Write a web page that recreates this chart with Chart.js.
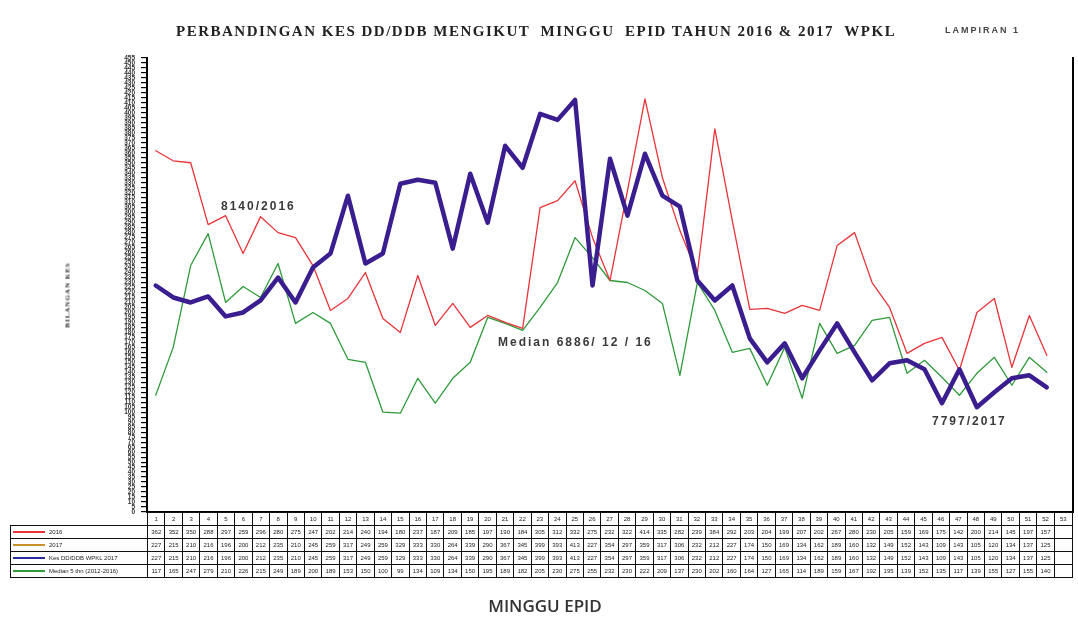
<!DOCTYPE html>
<html>
<head>
<meta charset="utf-8">
<script src="https://cdn.jsdelivr.net/npm/chart.js@4.4.0/dist/chart.umd.min.js"></script>
<style>
  body { margin: 0; background: #fff; }
  #wrap { position: relative; width: 1078px; height: 619px; overflow: hidden; }
  #myChart { position: absolute; left: 0; top: 0; }
  .txt { position: absolute; white-space: pre; }
  #title { left: 176px; top: 23px; font: bold 15px "Liberation Serif", serif; color: #222; letter-spacing: 1.5px; }
  #lampiran { left: 945px; top: 25px; font: bold 9px "Liberation Sans", sans-serif; color: #444; letter-spacing: 2px; }
  #ytitle { left: 30px; top: 291px; width: 75px; text-align: center; font: bold 7px "Liberation Serif", serif; color: #222; transform: rotate(-90deg); letter-spacing: 1px; }
  #xtitle { left: 0; width: 1090px; top: 594px; text-align: center; font: 600 17px "Open Sans", sans-serif; color: #333; }
  .note { font: bold 12px "Liberation Sans", sans-serif; color: #3a3a3a; letter-spacing: 2px; }
  #dataTable { position: absolute; left: 10px; top: 512px; width: 1063px; table-layout: fixed; border-collapse: collapse; }
  #dataTable td { border: 1px solid #111; height: 12px; padding: 0; font: 6px "Liberation Sans", sans-serif; color: #222; text-align: center; overflow: hidden; }
  #dataTable td.leg { text-align: left; font-size: 6px; white-space: nowrap; border-width: 1.5px; }
  #dataTable td.blank { border: none; }
  .legline { display: inline-block; width: 32px; height: 2px; vertical-align: middle; margin: 0 4px 0 2px; }
</style>
</head>
<body>
<div id="wrap">
  <canvas id="myChart" width="1078" height="619"></canvas>
  <div id="title" class="txt">PERBANDINGAN KES DD/DDB MENGIKUT  MINGGU  EPID TAHUN 2016 &amp; 2017  WPKL</div>
  <div id="lampiran" class="txt">LAMPIRAN 1</div>
  <div id="ytitle" class="txt">BILANGAN KES</div>
  <div id="xtitle" class="txt">MINGGU EPID</div>
  <div class="txt note" style="left:221px; top:199px;">8140/2016</div>
  <div class="txt note" style="left:498px; top:335px;">Median 6886/ 12 / 16</div>
  <div class="txt note" style="left:932px; top:414px;">7797/2017</div>
  <table id="dataTable"></table>
</div>
<script>
// data

const weeks = ["1","2","3","4","5","6","7","8","9","10","11","12","13","14","15","16","17","18","19","20",
  "21","22","23","24","25","26","27","28","29","30","31","32","33","34","35","36","37","38","39","40",
  "41","42","43","44","45","46","47","48","49","50","51","52","53"];

const kes2016 = [362, 352, 350, 288, 297, 259, 296, 280, 275, 247, 202, 214, 240, 194, 180, 237, 187, 209, 185, 197,
  190, 184, 305, 312, 332, 275, 232, 322, 414, 335, 282, 239, 384, 292, 203, 204, 199, 207, 202, 267,
  280, 230, 205, 159, 169, 175, 142, 200, 214, 145, 197, 157, null];

const kes2017 = [227, 215, 210, 216, 196, 200, 212, 235, 210, 245, 259, 317, 249, 259, 329, 333, 330, 264, 339, 290,
  367, 345, 399, 393, 413, 227, 354, 297, 359, 317, 306, 232, 212, 227, 174, 150, 169, 134, 162, 189,
  160, 132, 149, 152, 143, 109, 143, 105, 120, 134, 137, 125, null];

const median = [117, 165, 247, 279, 210, 226, 215, 249, 189, 200, 189, 153, 150, 100, 99, 134, 109, 134, 150, 195,
  189, 182, 205, 230, 275, 255, 232, 230, 222, 209, 137, 230, 202, 160, 164, 127, 165, 114, 189, 159,
  167, 192, 195, 139, 152, 135, 117, 139, 155, 127, 155, 140, null];

const rowNames = ["2016", "2017", "Kes DD/DDB WPKL 2017", "Median 5 thn (2012-2016)"];
const rowColors = ["#e8343a", "#c9922e", "#2b2aa0", "#2f9a3a"];

// table under the chart

const table = document.getElementById("dataTable");
let html = '<colgroup><col style="width:137px">';
weeks.forEach(() => { html += "<col>"; });
html += "</colgroup><tr><td class='blank'></td>";
weeks.forEach((w) => { html += "<td>" + w + "</td>"; });
html += "</tr>";
const rows = [kes2016, kes2017, kes2017, median];
rows.forEach((vals, r) => {
  html += "<tr><td class='leg'><span class='legline' style='background:" + rowColors[r] + "'></span>" + rowNames[r] + "</td>";
  vals.forEach((v) => { html += "<td>" + (v === null ? "" : v) + "</td>"; });
  html += "</tr>";
});
table.innerHTML = html;

// chart

const ctx = document.getElementById("myChart").getContext("2d");

const myChart = new Chart(ctx, {
  type: "line",
  data: {
    labels: weeks,
    datasets: [
      { label: "Kes DD/DDB WPKL 2017", data: kes2017, borderColor: "#3a1d8f", borderWidth: 4.5 },
      { label: "2016", data: kes2016, borderColor: "#e8343a", borderWidth: 1.3 },
      { label: "Median", data: median, borderColor: "#2f9a3a", borderWidth: 1.3 },
      { label: "2017", data: kes2017, borderColor: "#c9922e", borderWidth: 1.5 },
    ],
  },
  options: {
    responsive: false,
    animation: false,
    layout: { padding: { left: 100, right: 5, top: 58, bottom: 107 } },
    elements: {
      point: { radius: 0 },
      line: { tension: 0, borderJoinStyle: "round", borderCapStyle: "round" },
    },
    plugins: { legend: { display: false }, tooltip: { enabled: false } },
    scales: {
      x: {
        offset: true,
        ticks: { display: false },
        grid: { display: false },
        border: { color: "#000", width: 2 },
        afterFit: (s) => { s.height = 0; },
      },
      y: {
        min: 0,
        max: 455,
        ticks: {
          stepSize: 5,
          autoSkip: false,
          padding: 6,
          color: "#333",
          font: { size: 6.5, family: "Liberation Sans", weight: "bold" },
        },
        grid: { drawOnChartArea: false, color: "#000", tickLength: 6, lineWidth: 1.2 },
        border: { color: "#000", width: 2 },
        afterFit: (s) => { s.width = 47; },
      },
      y2: {
        type: "linear",
        position: "right",
        ticks: { display: false },
        grid: { display: false },
        border: { color: "#000", width: 2 },
        afterFit: (s) => { s.width = 0; },
      },
    },
  },
});
</script>
</body>
</html>
